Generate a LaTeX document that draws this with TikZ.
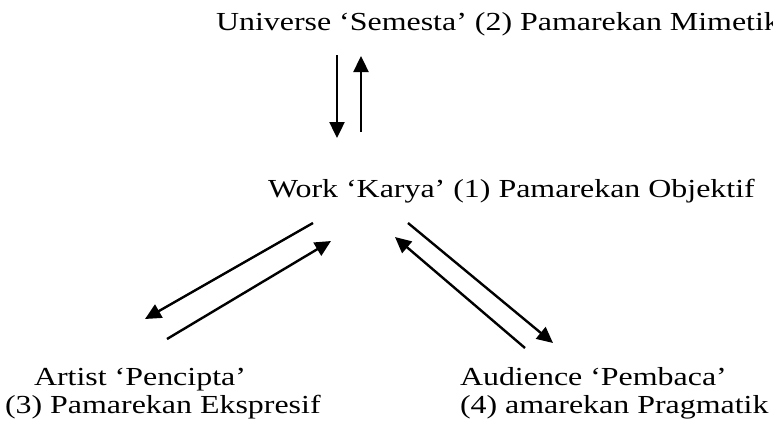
\documentclass[tikz,border=0pt]{standalone}
\usepackage{fontspec}
\setmainfont[FakeStretch=1.228]{Liberation Serif}
\usepackage{tikz}
\usetikzlibrary{positioning}
\usetikzlibrary{arrows.meta}

\begin{document}
\begin{tikzpicture}[
            x = 1pt,
            y = -1pt,
            label/.style = {
                anchor = base west,
                inner sep = 0pt,
                outer sep = 0pt,
                align = left,
                font = \fontsize{26}{28}\selectfont
            },
            link/.style = {
                line width = 2.4pt,
                -{Triangle[length=16pt, width=15pt]}
            }
            ]
            \useasboundingbox (0,0) rectangle (773,432);

            \node[label] (universe) at (216,30) {Universe ‘Semesta’ (2) Pamarekan Mimetik};
            \node[label] (work) at (268,197) {Work ‘Karya’ (1) Pamarekan Objektif};
            \node[label] (artist) at (5,413) {\hspace*{29pt}Artist ‘Pencipta’\\(3) Pamarekan Ekspresif};
            \node[label] (audience) at (460,413) {Audience ‘Pembaca’\\(4) amarekan Pragmatik};

            % ends of the arrows
            \coordinate (u1) at (337,55);  \coordinate (w1) at (337,138);
            \coordinate (w2) at (361,132); \coordinate (u2) at (361,56);
            \coordinate (w3) at (313,223); \coordinate (a1) at (145,319);
            \coordinate (a2) at (167,339); \coordinate (w4) at (331,241);
            \coordinate (w5) at (408,223); \coordinate (r1) at (553,343);
            \coordinate (r2) at (525,348); \coordinate (w6) at (395,237);

            \draw[link] (u1) -- (w1);
            \draw[link] (w2) -- (u2);
            \draw[link] (w3) -- (a1);
            \draw[link] (a2) -- (w4);
            \draw[link] (w5) -- (r1);
            \draw[link] (r2) -- (w6);
        \end{tikzpicture}
\end{document}
